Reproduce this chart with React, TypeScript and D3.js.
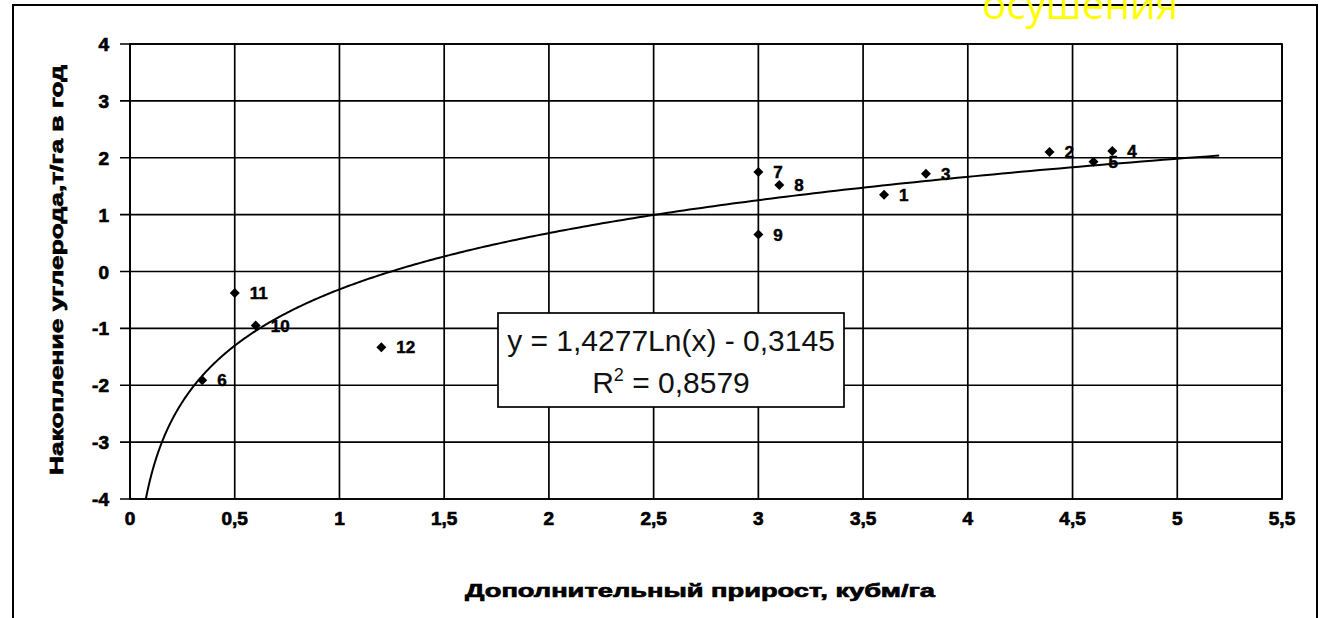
import React from "react";
import * as d3 from "d3";

// Observation points: additional growth (m3/ha) vs. carbon accumulation (t/ha per year)
const pointLabels = ["1", "2", "3", "4", "5", "6", "7", "8", "9", "10", "11", "12"];
const growthValues = [3.6, 4.39, 3.8, 4.69, 4.6, 0.345, 3.0, 3.1, 3.0, 0.6, 0.5, 1.2];
const carbonValues = [1.35, 2.1, 1.72, 2.12, 1.93, -1.91, 1.75, 1.52, 0.65, -0.95, -0.38, -1.33];

// Logarithmic trend: y = a*ln(x) + b
const trendA = 1.4277;
const trendB = -0.3145;
const trendR2 = "0,8579";
const trendXEnd = 5.2;

const xTicks = [0, 0.5, 1, 1.5, 2, 2.5, 3, 3.5, 4, 4.5, 5, 5.5];
const yTicks = [-4, -3, -2, -1, 0, 1, 2, 3, 4];

const xTitle = "Дополнительный прирост, кубм/га";
const yTitle = "Накопление углерода,т/га в год";
const topCaption = "осушения";

const W = 1329;
const H = 618;
const plot = { left: 130, right: 1282, top: 44, bottom: 499 };

const fmt = (v: number) => String(v).replace(".", ",");

export default function App() {
  const x = d3.scaleLinear().domain([0, 5.5]).range([plot.left, plot.right]);
  const y = d3.scaleLinear().domain([-4, 4]).range([plot.bottom, plot.top]);

  const xStart = Math.exp((-4 - trendB) / trendA);
  const steps = 400;
  const trendPts: [number, number][] = d3
    .range(steps + 1)
    .map((i) => xStart * Math.pow(trendXEnd / xStart, i / steps))
    .map((v) => [v, trendA * Math.log(v) + trendB]);
  const line = d3
    .line<[number, number]>()
    .x((d) => x(d[0]))
    .y((d) => y(d[1]));

  const bold = "'Liberation Sans', Arial, sans-serif";
  // rotated square marker
  const marker = d3.symbol().type(d3.symbolSquare).size(50)();

  const heavy = { fontFamily: bold, fontWeight: "bold" as const, fill: "#000", stroke: "#000", strokeWidth: 0.7 };

  return (
    <svg
      width={W}
      height={H}
      style={{ position: "absolute", left: 0, top: 0, background: "#fff" }}
    >
      {/* outer chart frame */}
      <path d={`M13,${H + 5} L13,5 L1317,5 L1317,${H + 5}`} fill="none" stroke="#000" strokeWidth={2} />

      {/* caption cut by the top edge */}
      <text
        x={1080}
        y={19}
        textAnchor="middle"
        fill="#ffff00"
        fontFamily="'Open Sans', 'Noto Sans', sans-serif"
        fontSize={40}
        textLength={196}
        lengthAdjust="spacingAndGlyphs"
      >
        {topCaption}
      </text>

      {/* grid */}
      {xTicks.map((t) => (
        <line key={"gx" + t} x1={x(t)} x2={x(t)} y1={plot.top} y2={plot.bottom} stroke="#000" strokeWidth={1.7} />
      ))}
      {yTicks.map((t) => (
        <line key={"gy" + t} x1={plot.left - 10} x2={plot.right} y1={y(t)} y2={y(t)} stroke="#000" strokeWidth={1.7} />
      ))}
      <rect
        x={plot.left}
        y={plot.top}
        width={plot.right - plot.left}
        height={plot.bottom - plot.top}
        fill="none"
        stroke="#000"
        strokeWidth={1.7}
      />

      {/* tick labels */}
      {yTicks.map((t) => (
        <text key={"ly" + t} x={109} y={y(t) + 7} textAnchor="end" fontSize={19} {...heavy}>
          {fmt(t)}
        </text>
      ))}
      {xTicks.map((t) => (
        <text key={"lx" + t} x={x(t)} y={525} textAnchor="middle" fontSize={19} {...heavy}>
          {fmt(t)}
        </text>
      ))}

      {/* axis titles */}
      <text
        x={700}
        y={597}
        textAnchor="middle"
        fontSize={19}
        textLength={470}
        lengthAdjust="spacingAndGlyphs"
        {...heavy}
      >
        {xTitle}
      </text>
      <text
        transform={`translate(63,270) rotate(-90)`}
        textAnchor="middle"
        fontSize={19}
        textLength={410}
        lengthAdjust="spacingAndGlyphs"
        {...heavy}
      >
        {yTitle}
      </text>

      {/* trend line */}
      <path d={line(trendPts) || ""} fill="none" stroke="#000" strokeWidth={2} />

      {/* points */}
      {growthValues.map((gx, i) => (
        <g key={"p" + i}>
          <path
            d={marker || ""}
            transform={`translate(${x(gx)},${y(carbonValues[i])}) rotate(45)`}
            fill="#000"
          />
          <text x={x(gx) + 15} y={y(carbonValues[i]) + 6} fontSize={17} {...heavy} strokeWidth={0.5}>
            {pointLabels[i]}
          </text>
        </g>
      ))}

      {/* equation box */}
      <rect x={498} y={313} width={346} height={94} fill="#fff" stroke="#000" strokeWidth={1.7} />
      <text
        x={671}
        y={351}
        textAnchor="middle"
        fontFamily="'Liberation Sans', Arial, sans-serif"
        fontSize={30}
        fill="#111"
      >
        {`y = ${fmt(trendA)}Ln(x) - ${fmt(Math.abs(trendB))}`}
      </text>
      <text
        x={671}
        y={393}
        textAnchor="middle"
        fontFamily="'Liberation Sans', Arial, sans-serif"
        fontSize={30}
        fill="#111"
      >
        R
        <tspan fontSize={18} dy={-12}>2</tspan>
        <tspan dy={12}>{` = ${trendR2}`}</tspan>
      </text>
    </svg>
  );
}
